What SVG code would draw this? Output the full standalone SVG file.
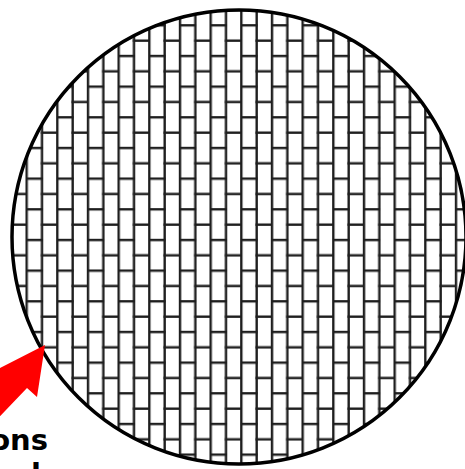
<svg xmlns="http://www.w3.org/2000/svg" width="465" height="469" viewBox="0 0 465 469">
  <style>
    .lbl { font-family: "DejaVu Sans", "Liberation Sans", sans-serif; font-weight: bold; font-size: 29px; fill: #000; }
    .mortar { fill: #1e1e1e; }
  </style>
  <defs>
    <pattern id="brick" patternUnits="userSpaceOnUse" x="25.47" y="238.8" width="30.667" height="30.667">
      <rect class="mortar" x="0" y="0" width="2.4" height="30.667"/>
      <rect class="mortar" x="15.333" y="0" width="2.4" height="30.667"/>
      <rect class="mortar" x="0" y="0" width="17.733" height="2.4"/>
      <rect class="mortar" x="15.333" y="15.333" width="17.733" height="2.4"/>
    </pattern>
  </defs>
  <rect width="465" height="469" fill="#fff"/>
  <g id="disc">
    <circle cx="239" cy="237" r="227" fill="#fff"/>
    <circle cx="239" cy="237" r="227" fill="url(#brick)" stroke="#000" stroke-width="3.5"/>
  </g>
  <g id="connectors">
    <polygon id="arrow" points="45,345 37,397 27,388 -20,437 -42,416 -2,378 -8,372" fill="#ff0000"/>
  </g>
  <g id="label">
    <text class="lbl" x="48" y="450" text-anchor="end">ons</text>
    <text class="lbl" x="31" y="484">l</text>
  </g>
</svg>
